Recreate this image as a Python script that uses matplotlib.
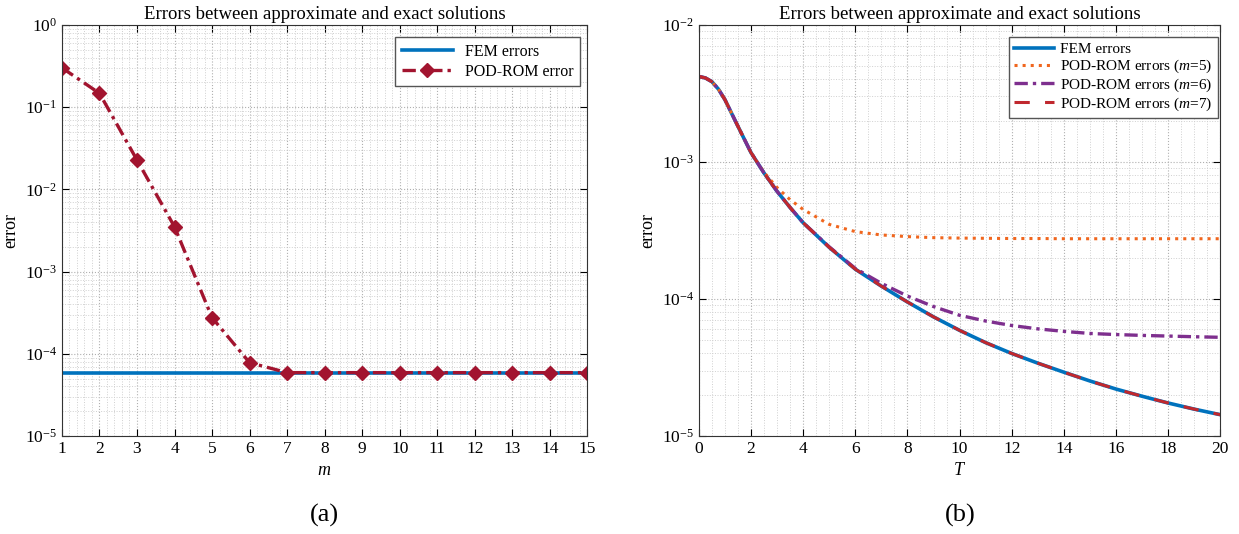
import matplotlib
matplotlib.use("Agg")
import matplotlib.pyplot as plt
from matplotlib.ticker import MultipleLocator, LogLocator, NullFormatter

# panel (a): error versus number of POD modes m
m_vals = [1, 2, 3, 4, 5, 6, 7, 8, 9, 10, 11, 12, 13, 14, 15]
fem_err_m = [5.9e-5] * 15
pod_err_m = [0.30, 0.147, 0.0227, 0.0035, 2.75e-4, 7.8e-5, 5.9e-5, 5.9e-5,
             5.9e-5, 5.9e-5, 5.9e-5, 5.9e-5, 5.9e-5, 5.9e-5, 5.9e-5]

# panel (b): error versus time T
t_vals = [0, 0.25, 0.5, 0.75, 1, 1.5, 2, 2.5, 3, 3.5, 4, 5, 6, 7, 8, 9, 10,
          11, 12, 13, 14, 15, 16, 17, 18, 19, 20]
fem_err_t = [4.2e-3, 4.1e-3, 3.85e-3, 3.4e-3, 2.85e-3, 1.82e-3, 1.17e-3, 8.3e-4, 6.1e-4, 4.65e-4, 3.6e-4,
             2.38e-4, 1.65e-4, 1.24e-4, 9.5e-5, 7.4e-5, 5.9e-5,
             4.8e-5, 4.0e-5, 3.4e-5, 2.92e-5, 2.52e-5, 2.2e-5, 1.95e-5, 1.74e-5, 1.57e-5, 1.43e-5]
pod5_err_t = [4.2e-3, 4.1e-3, 3.85e-3, 3.4e-3, 2.85e-3, 1.82e-3, 1.17e-3, 8.4e-4, 6.5e-4, 5.3e-4, 4.5e-4,
              3.5e-4, 3.1e-4, 2.93e-4, 2.85e-4, 2.8e-4, 2.78e-4,
              2.77e-4, 2.76e-4, 2.76e-4, 2.75e-4, 2.75e-4, 2.75e-4, 2.75e-4, 2.75e-4, 2.75e-4, 2.75e-4]
pod6_err_t = [4.2e-3, 4.1e-3, 3.85e-3, 3.4e-3, 2.85e-3, 1.82e-3, 1.17e-3, 8.3e-4, 6.1e-4, 4.65e-4, 3.6e-4,
              2.4e-4, 1.67e-4, 1.3e-4, 1.05e-4, 8.8e-5, 7.6e-5,
              6.9e-5, 6.4e-5, 6.05e-5, 5.8e-5, 5.6e-5, 5.5e-5, 5.42e-5, 5.36e-5, 5.3e-5, 5.25e-5]
pod7_err_t = [4.2e-3, 4.1e-3, 3.85e-3, 3.4e-3, 2.85e-3, 1.82e-3, 1.17e-3, 8.3e-4, 6.1e-4, 4.65e-4, 3.6e-4,
              2.38e-4, 1.65e-4, 1.24e-4, 9.5e-5, 7.4e-5, 5.9e-5,
              4.8e-5, 4.0e-5, 3.4e-5, 2.92e-5, 2.52e-5, 2.2e-5, 1.95e-5, 1.74e-5, 1.57e-5, 1.43e-5]

plt.rcParams["font.family"] = ["Liberation Serif", "DejaVu Serif"]
plt.rcParams["mathtext.fontset"] = "custom"
plt.rcParams["mathtext.rm"] = "Liberation Serif"
plt.rcParams["mathtext.it"] = "Liberation Serif:italic"

BLUE = "#0072BD"
ORANGE = "#F0661E"
PURPLE = "#7E2F8E"
RED = "#C0282E"
DARKRED = "#A2142F"


def style_axes(ax, x_minor):
    ax.set_yscale("log")
    ax.xaxis.set_minor_locator(MultipleLocator(x_minor))
    ax.yaxis.set_major_locator(LogLocator(base=10, numticks=10))
    ax.yaxis.set_minor_locator(LogLocator(base=10, subs=range(2, 10), numticks=10))
    ax.yaxis.set_minor_formatter(NullFormatter())
    ax.grid(True, which="major", linestyle=":", color="#b0b0b0", linewidth=0.8)
    ax.grid(True, which="minor", linestyle=":", color="#d0d0d0", linewidth=0.7)
    ax.tick_params(which="both", direction="in", top=True, right=True, labelsize=12.5)
    ax.tick_params(which="minor", length=0)
    ax.tick_params(which="major", length=5)
    for s in ax.spines.values():
        s.set_color("#333333")
        s.set_linewidth(0.8)
    ax.set_ylabel("error", fontsize=13)
    ax.set_title("Errors between approximate and exact solutions", fontsize=13.5, pad=4)


fig = plt.figure(figsize=(12.39, 5.34), dpi=100)
ax1 = fig.add_axes([0.050, 0.1835, 0.424, 0.770])
ax2 = fig.add_axes([0.564, 0.1835, 0.421, 0.770])

# (a)
ax1.plot(m_vals, fem_err_m, color=BLUE, linewidth=2.6, label="FEM errors")
ax1.plot(m_vals, pod_err_m, color=DARKRED, linewidth=2.4, linestyle=(0, (4, 1.5, 1, 1.5)),
         marker="D", markersize=7, label="POD-ROM error")
style_axes(ax1, 0.2)
ax1.set_xlim(1, 15)
ax1.set_ylim(1e-5, 1)
ax1.xaxis.set_major_locator(MultipleLocator(1))
ax1.set_xlabel("$m$", fontsize=13)
leg1 = ax1.legend(loc="upper right", bbox_to_anchor=(0.987, 0.97), fontsize=11.5,
                  fancybox=False, framealpha=1, edgecolor="#555555",
                  handlelength=3.2, borderaxespad=0, labelspacing=0.25)
leg1.get_frame().set_linewidth(1.0)

# (b)
ax2.plot(t_vals, fem_err_t, color=BLUE, linewidth=2.6, label="FEM errors")
ax2.plot(t_vals, pod5_err_t, color=ORANGE, linewidth=2.2, linestyle=":",
         label="POD-ROM errors ($m$=5)")
ax2.plot(t_vals, pod6_err_t, color=PURPLE, linewidth=2.4, linestyle=(0, (4, 1.5, 1, 1.5)),
         label="POD-ROM errors ($m$=6)")
ax2.plot(t_vals, pod7_err_t, color=RED, linewidth=2.2, linestyle=(0, (5, 5)),
         label="POD-ROM errors ($m$=7)")
style_axes(ax2, 0.5)
ax2.set_xlim(0, 20)
ax2.set_ylim(1e-5, 1e-2)
ax2.xaxis.set_major_locator(MultipleLocator(2))
ax2.set_xlabel("$T$", fontsize=13)
leg2 = ax2.legend(loc="upper right", bbox_to_anchor=(0.995, 0.97), fontsize=11,
                  fancybox=False, framealpha=1, edgecolor="#555555",
                  handlelength=2.6, borderaxespad=0, labelspacing=0.1,
                  handletextpad=0.4, borderpad=0.35)
leg2.get_frame().set_linewidth(1.0)

fig.text(0.262, 0.035, "(a)", ha="center", va="center", fontsize=19)
fig.text(0.775, 0.035, "(b)", ha="center", va="center", fontsize=19)

fig.savefig("out.png", dpi=100)
